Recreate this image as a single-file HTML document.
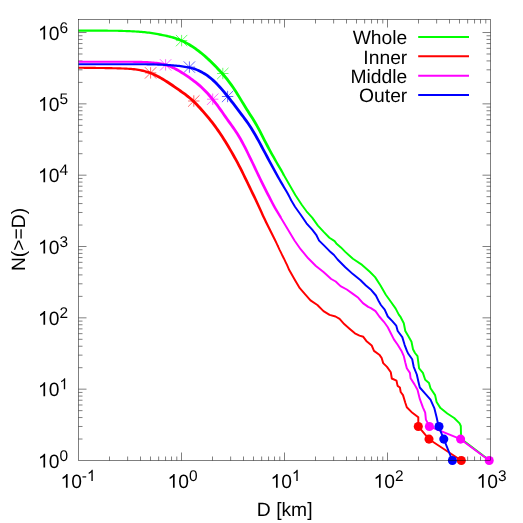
<!DOCTYPE html>
<html><head><meta charset="utf-8"><title>N(&gt;=D)</title>
<style>html,body{margin:0;padding:0;background:#fff}svg{display:block;will-change:transform}text{font-family:"Liberation Sans",sans-serif;fill:#000;text-rendering:geometricPrecision}</style></head>
<body>
<svg width="523" height="523" viewBox="0 0 523 523">
<rect width="523" height="523" fill="#fff"/>
<path d="M109.51 460.5v-4M109.51 19.5v4M127.64 460.5v-4M127.64 19.5v4M140.51 460.5v-4M140.51 19.5v4M150.49 460.5v-4M150.49 19.5v4M158.65 460.5v-4M158.65 19.5v4M165.55 460.5v-4M165.55 19.5v4M171.52 460.5v-4M171.52 19.5v4M176.79 460.5v-4M176.79 19.5v4M181.50 460.5v-8M181.50 19.5v8M212.51 460.5v-4M212.51 19.5v4M230.64 460.5v-4M230.64 19.5v4M243.51 460.5v-4M243.51 19.5v4M253.49 460.5v-4M253.49 19.5v4M261.65 460.5v-4M261.65 19.5v4M268.55 460.5v-4M268.55 19.5v4M274.52 460.5v-4M274.52 19.5v4M279.79 460.5v-4M279.79 19.5v4M284.50 460.5v-8M284.50 19.5v8M315.51 460.5v-4M315.51 19.5v4M333.64 460.5v-4M333.64 19.5v4M346.51 460.5v-4M346.51 19.5v4M356.49 460.5v-4M356.49 19.5v4M364.65 460.5v-4M364.65 19.5v4M371.55 460.5v-4M371.55 19.5v4M377.52 460.5v-4M377.52 19.5v4M382.79 460.5v-4M382.79 19.5v4M387.50 460.5v-8M387.50 19.5v8M418.51 460.5v-4M418.51 19.5v4M436.64 460.5v-4M436.64 19.5v4M449.51 460.5v-4M449.51 19.5v4M459.49 460.5v-4M459.49 19.5v4M467.65 460.5v-4M467.65 19.5v4M474.55 460.5v-4M474.55 19.5v4M480.52 460.5v-4M480.52 19.5v4M485.79 460.5v-4M485.79 19.5v4M78.5 439.03h4M490.5 439.03h-4M78.5 426.47h4M490.5 426.47h-4M78.5 417.56h4M490.5 417.56h-4M78.5 410.64h4M490.5 410.64h-4M78.5 404.99h4M490.5 404.99h-4M78.5 400.22h4M490.5 400.22h-4M78.5 396.08h4M490.5 396.08h-4M78.5 392.43h4M490.5 392.43h-4M78.5 389.17h8M490.5 389.17h-8M78.5 367.70h4M490.5 367.70h-4M78.5 355.14h4M490.5 355.14h-4M78.5 346.23h4M490.5 346.23h-4M78.5 339.31h4M490.5 339.31h-4M78.5 333.66h4M490.5 333.66h-4M78.5 328.89h4M490.5 328.89h-4M78.5 324.75h4M490.5 324.75h-4M78.5 321.10h4M490.5 321.10h-4M78.5 317.84h8M490.5 317.84h-8M78.5 296.37h4M490.5 296.37h-4M78.5 283.81h4M490.5 283.81h-4M78.5 274.90h4M490.5 274.90h-4M78.5 267.98h4M490.5 267.98h-4M78.5 262.33h4M490.5 262.33h-4M78.5 257.56h4M490.5 257.56h-4M78.5 253.42h4M490.5 253.42h-4M78.5 249.77h4M490.5 249.77h-4M78.5 246.51h8M490.5 246.51h-8M78.5 225.04h4M490.5 225.04h-4M78.5 212.48h4M490.5 212.48h-4M78.5 203.57h4M490.5 203.57h-4M78.5 196.65h4M490.5 196.65h-4M78.5 191.00h4M490.5 191.00h-4M78.5 186.23h4M490.5 186.23h-4M78.5 182.09h4M490.5 182.09h-4M78.5 178.44h4M490.5 178.44h-4M78.5 175.18h8M490.5 175.18h-8M78.5 153.71h4M490.5 153.71h-4M78.5 141.15h4M490.5 141.15h-4M78.5 132.24h4M490.5 132.24h-4M78.5 125.32h4M490.5 125.32h-4M78.5 119.67h4M490.5 119.67h-4M78.5 114.90h4M490.5 114.90h-4M78.5 110.76h4M490.5 110.76h-4M78.5 107.11h4M490.5 107.11h-4M78.5 103.85h8M490.5 103.85h-8M78.5 82.38h4M490.5 82.38h-4M78.5 69.82h4M490.5 69.82h-4M78.5 60.91h4M490.5 60.91h-4M78.5 53.99h4M490.5 53.99h-4M78.5 48.34h4M490.5 48.34h-4M78.5 43.57h4M490.5 43.57h-4M78.5 39.43h4M490.5 39.43h-4M78.5 35.78h4M490.5 35.78h-4M78.5 32.52h8M490.5 32.52h-8" stroke="#000" stroke-width="0.5" fill="none"/>
<text x="407.3" y="44.2" font-size="19.3" text-anchor="end">Whole</text>
<text x="407.3" y="63.5" font-size="19.3" text-anchor="end">Inner</text>
<text x="407.3" y="82.9" font-size="19.3" text-anchor="end">Middle</text>
<text x="407.3" y="102.2" font-size="19.3" text-anchor="end">Outer</text>
<path d="M175.9 40.6h11.4M181.6 34.9v11.4M175.9 34.9l11.4 11.4M175.9 46.3l11.4 -11.4M217.1 73.5h11.4M222.8 67.8v11.4M217.1 67.8l11.4 11.4M217.1 79.2l11.4 -11.4" stroke="#00ff00" stroke-width="0.6" fill="none"/>
<path d="M144.9 72.9h11.4M150.6 67.2v11.4M144.9 67.2l11.4 11.4M144.9 78.6l11.4 -11.4M188.1 101.0h11.4M193.8 95.3v11.4M188.1 95.3l11.4 11.4M188.1 106.7l11.4 -11.4" stroke="#ff0000" stroke-width="0.6" fill="none"/>
<path d="M159.9 64.9h11.4M165.6 59.2v11.4M159.9 59.2l11.4 11.4M159.9 70.6l11.4 -11.4M207.0 99.2h11.4M212.7 93.5v11.4M207.0 93.5l11.4 11.4M207.0 104.9l11.4 -11.4" stroke="#ff00ff" stroke-width="0.6" fill="none"/>
<path d="M183.7 67.1h11.4M189.4 61.4v11.4M183.7 61.4l11.4 11.4M183.7 72.8l11.4 -11.4M221.9 96.5h11.4M227.6 90.8v11.4M221.9 90.8l11.4 11.4M221.9 102.2l11.4 -11.4" stroke="#0000ff" stroke-width="0.6" fill="none"/>
<polygon points="78.50,31.65 80.00,31.65 81.50,31.65 83.00,31.65 84.50,31.66 86.00,31.66 87.50,31.66 89.00,31.66 90.50,31.67 92.00,31.67 93.50,31.67 95.00,31.68 96.50,31.68 98.00,31.69 99.50,31.69 101.00,31.70 102.50,31.70 104.00,31.71 105.49,31.72 106.99,31.73 108.49,31.74 109.99,31.75 111.49,31.76 112.99,31.78 114.48,31.80 115.98,31.83 117.48,31.87 118.97,31.91 120.47,31.95 121.97,32.00 123.46,32.05 124.96,32.11 126.46,32.16 127.96,32.22 129.45,32.29 130.95,32.35 132.45,32.42 133.94,32.50 135.44,32.58 136.93,32.67 138.43,32.77 139.92,32.88 141.41,33.01 142.90,33.14 144.38,33.30 145.87,33.47 147.36,33.66 148.84,33.86 150.33,34.08 151.82,34.31 153.31,34.56 154.80,34.81 156.29,35.08 157.79,35.35 159.28,35.64 160.77,35.93 162.26,36.23 163.76,36.54 165.25,36.86 166.74,37.19 168.22,37.54 169.70,37.91 171.18,38.31 172.65,38.73 174.12,39.19 175.59,39.68 177.05,40.22 178.52,40.79 179.98,41.41 181.45,42.06 182.91,42.76 184.38,43.51 185.85,44.29 187.32,45.12 188.79,45.99 190.27,46.89 191.74,47.84 193.22,48.82 194.69,49.84 196.17,50.90 197.65,52.00 199.12,53.15 200.60,54.34 202.08,55.58 203.56,56.86 205.05,58.18 206.53,59.54 208.02,60.93 209.51,62.36 211.00,63.81 212.49,65.30 213.98,66.80 215.48,68.33 216.97,69.88 218.46,71.45 219.95,73.07 221.43,74.73 222.92,76.44 224.40,78.21 225.89,80.05 227.38,81.95 228.87,83.93 230.36,85.97 231.85,88.09 233.34,90.29 234.83,92.57 236.32,94.92 237.82,97.34 239.32,99.80 240.82,102.30 242.32,104.80 243.82,107.28 245.32,109.72 246.83,112.10 248.33,114.43 249.83,116.74 251.33,119.07 252.82,121.46 254.31,123.95 255.80,126.56 257.30,129.29 258.80,132.12 260.29,135.03 261.79,137.96 263.30,140.89 264.80,143.78 266.31,146.63 267.83,149.42 269.35,152.17 270.87,154.88 272.39,157.57 273.92,160.23 275.44,162.86 276.96,165.44 278.49,167.98 280.00,170.52 281.52,173.12 282.83,175.52 284.77,174.48 283.48,172.03 282.00,169.36 280.51,166.79 279.04,164.23 277.56,161.64 276.08,159.01 274.61,156.34 273.13,153.63 271.65,150.91 270.17,148.15 268.69,145.35 267.20,142.52 265.70,139.64 264.21,136.72 262.71,133.79 261.20,130.87 259.70,128.00 258.20,125.22 256.69,122.56 255.18,120.02 253.67,117.59 252.17,115.24 250.67,112.92 249.17,110.60 247.68,108.24 246.18,105.83 244.68,103.37 243.18,100.88 241.68,98.38 240.18,95.89 238.68,93.45 237.17,91.06 235.66,88.75 234.15,86.50 232.64,84.34 231.13,82.25 229.62,80.24 228.11,78.29 226.60,76.41 225.08,74.60 223.57,72.85 222.05,71.15 220.54,69.51 219.03,67.91 217.52,66.34 216.02,64.80 214.51,63.28 213.00,61.78 211.49,60.31 209.98,58.86 208.47,57.45 206.95,56.07 205.44,54.72 203.92,53.41 202.40,52.15 200.88,50.93 199.35,49.76 197.83,48.63 196.31,47.54 194.78,46.50 193.26,45.50 191.73,44.54 190.21,43.62 188.68,42.74 187.15,41.90 185.62,41.10 184.09,40.34 182.55,39.64 181.02,38.98 179.48,38.36 177.95,37.79 176.41,37.26 174.88,36.78 173.35,36.33 171.82,35.91 170.30,35.53 168.78,35.17 167.26,34.83 165.75,34.50 164.24,34.19 162.74,33.89 161.23,33.59 159.72,33.30 158.21,33.02 156.71,32.76 155.20,32.50 153.69,32.25 152.18,32.01 150.67,31.79 149.16,31.58 147.64,31.39 146.13,31.21 144.62,31.06 143.10,30.91 141.59,30.79 140.08,30.68 138.57,30.58 137.07,30.49 135.56,30.40 134.06,30.33 132.55,30.26 131.05,30.19 129.55,30.12 128.04,30.06 126.54,30.01 125.04,29.95 123.54,29.90 122.03,29.85 120.53,29.81 119.03,29.77 117.52,29.73 116.02,29.71 114.52,29.68 113.01,29.66 111.51,29.65 110.01,29.64 108.51,29.63 107.01,29.62 105.51,29.61 104.00,29.60 102.50,29.60 101.00,29.59 99.50,29.59 98.00,29.58 96.50,29.58 95.00,29.57 93.50,29.57 92.00,29.57 90.50,29.56 89.00,29.56 87.50,29.56 86.00,29.56 84.50,29.55 83.00,29.55 81.50,29.55 80.00,29.55 78.50,29.55" fill="#00ff00"/>
<polyline points="283.8,175.0 295.3,195.0 301.9,205.0 306.5,211.3 312.2,217.6 317.9,225.6 323.7,231.9 329.4,237.7 334.6,241.1 336.3,243.4 340.9,247.4 345.3,251.9 352.9,258.8 362.1,264.9 369.8,271.8 375.1,277.1 380.5,285.5 385.8,294.7 391.2,302.3 395.7,308.6 398.8,314.6 400.7,317.2 403.8,323.3 405.3,331.0 408.4,336.3 411.5,341.7 413.0,349.3 415.0,353.0 417.5,356.1 419.1,368.3 422.9,372.9 425.2,379.8 429.0,382.9 430.5,388.2 435.1,395.1 436.6,402.0 440.5,408.1 447.3,413.5 454.2,418.0 459.6,423.4 460.8,426.0 461.1,438.9 489.3,460.3" fill="none" stroke="#00ff00" stroke-width="1.95" stroke-linejoin="round" stroke-linecap="round"/>
<line x1="418.2" x2="469" y1="37.0" y2="37.0" stroke="#00ff00" stroke-width="2"/>
<polygon points="78.50,68.86 80.00,68.86 81.50,68.86 83.00,68.87 84.49,68.88 85.99,68.89 87.49,68.90 88.99,68.91 90.49,68.93 91.99,68.94 93.49,68.96 94.99,68.98 96.49,69.00 97.98,69.02 99.48,69.04 100.98,69.07 102.48,69.09 103.98,69.12 105.48,69.14 106.98,69.17 108.48,69.19 109.98,69.22 111.48,69.25 112.98,69.28 114.48,69.32 115.97,69.35 117.47,69.39 118.97,69.44 120.47,69.48 121.96,69.54 123.46,69.60 124.95,69.66 126.44,69.74 127.93,69.83 129.42,69.94 130.91,70.06 132.39,70.21 133.87,70.38 135.35,70.57 136.83,70.79 138.30,71.04 139.78,71.32 141.25,71.64 142.72,71.98 144.19,72.36 145.66,72.78 147.12,73.23 148.59,73.73 150.05,74.26 151.51,74.85 152.97,75.48 154.43,76.16 155.90,76.88 157.37,77.64 158.84,78.45 160.32,79.28 161.80,80.15 163.28,81.05 164.76,81.98 166.25,82.93 167.73,83.90 169.22,84.89 170.71,85.90 172.21,86.92 173.70,87.96 175.20,89.00 176.70,90.04 178.20,91.09 179.69,92.13 181.19,93.19 182.68,94.26 184.16,95.35 185.64,96.47 187.12,97.63 188.59,98.84 190.06,100.10 191.54,101.42 193.01,102.81 194.49,104.27 195.97,105.80 197.45,107.38 198.94,109.01 200.44,110.68 201.93,112.37 203.43,114.08 204.92,115.81 206.41,117.57 207.90,119.37 209.39,121.20 210.88,123.09 212.38,125.02 213.87,127.01 215.36,129.06 216.85,131.16 218.34,133.32 219.84,135.55 221.33,137.83 222.83,140.17 224.32,142.57 225.82,145.02 227.31,147.51 228.81,150.04 230.31,152.61 231.81,155.23 233.30,157.89 234.80,160.59 236.30,163.36 237.80,166.19 239.29,169.08 240.79,172.04 242.29,175.07 243.79,178.14 245.29,181.25 246.79,184.37 248.29,187.48 249.79,190.58 251.29,193.67 252.80,196.75 254.32,199.86 255.84,203.03 257.36,206.27 258.88,209.56 260.40,212.86 261.92,216.14 263.44,219.35 264.96,222.47 266.49,225.52 268.01,228.50 269.53,231.45 271.05,234.41 272.57,237.41 274.08,240.47 275.60,243.59 277.12,246.75 278.88,245.92 277.40,242.73 275.92,239.59 274.43,236.49 272.95,233.45 271.47,230.46 269.99,227.49 268.51,224.51 267.04,221.47 265.56,218.35 264.08,215.14 262.60,211.86 261.12,208.54 259.64,205.23 258.16,201.95 256.68,198.75 255.20,195.60 253.71,192.49 252.21,189.41 250.71,186.31 249.21,183.21 247.71,180.09 246.21,176.97 244.71,173.88 243.21,170.84 241.71,167.85 240.20,164.93 238.70,162.08 237.20,159.29 235.70,156.55 234.19,153.87 232.69,151.24 231.19,148.65 229.69,146.10 228.18,143.58 226.68,141.12 225.17,138.69 223.67,136.32 222.16,134.01 220.66,131.75 219.15,129.56 217.64,127.42 216.13,125.34 214.62,123.32 213.12,121.35 211.61,119.43 210.10,117.57 208.59,115.75 207.08,113.97 205.57,112.22 204.07,110.49 202.56,108.79 201.06,107.10 199.55,105.45 198.03,103.83 196.51,102.26 194.99,100.76 193.46,99.32 191.94,97.96 190.41,96.66 188.88,95.42 187.36,94.23 185.84,93.09 184.32,91.98 182.81,90.90 181.31,89.84 179.80,88.79 178.30,87.74 176.80,86.70 175.30,85.65 173.79,84.62 172.29,83.59 170.78,82.57 169.27,81.57 167.75,80.59 166.24,79.63 164.72,78.69 163.20,77.78 161.68,76.90 160.16,76.05 158.63,75.24 157.10,74.47 155.57,73.73 154.03,73.05 152.49,72.42 150.95,71.84 149.41,71.30 147.88,70.82 146.34,70.38 144.81,69.97 143.28,69.61 141.75,69.28 140.22,68.99 138.70,68.73 137.17,68.50 135.65,68.30 134.13,68.12 132.61,67.97 131.09,67.84 129.58,67.74 128.07,67.64 126.56,67.57 125.05,67.50 123.54,67.44 122.04,67.39 120.53,67.34 119.03,67.29 117.53,67.25 116.03,67.22 114.52,67.18 113.02,67.15 111.52,67.12 110.02,67.09 108.52,67.07 107.02,67.04 105.52,67.02 104.02,66.99 102.52,66.97 101.02,66.94 99.52,66.92 98.02,66.90 96.51,66.88 95.01,66.86 93.51,66.84 92.01,66.83 90.51,66.81 89.01,66.80 87.51,66.79 86.01,66.78 84.51,66.77 83.00,66.76 81.50,66.76 80.00,66.75 78.50,66.75" fill="#ff0000"/>
<polyline points="278.0,246.3 279.5,249.6 281.0,252.7 282.5,255.8 284.0,258.7 285.5,261.8 287.0,264.9 288.5,268.3 289.1,269.8 295.2,280.5 299.8,288.2 305.2,294.3 310.5,300.4 317.4,305.0 323.5,311.1 329.6,314.9 335.5,316.5 339.6,318.8 344.2,324.1 349.5,328.7 354.9,333.3 359.5,335.6 363.3,336.8 366.3,340.9 371.7,345.5 374.0,350.9 379.3,354.7 381.6,357.8 383.2,363.1 387.0,366.9 390.8,372.3 391.8,378.5 396.5,380.7 397.6,385.9 399.9,387.5 400.7,392.0 403.0,395.1 405.3,402.8 406.8,407.3 411.4,411.9 418.3,417.3 418.3,426.4 429.0,439.2 461.3,460.5" fill="none" stroke="#ff0000" stroke-width="1.95" stroke-linejoin="round" stroke-linecap="round"/>
<line x1="418.2" x2="469" y1="56.3" y2="56.3" stroke="#ff0000" stroke-width="2"/>
<circle cx="418.3" cy="426.5" r="4.55" fill="#ff0000"/>
<circle cx="429" cy="439.1" r="4.55" fill="#ff0000"/>
<circle cx="461.3" cy="460.5" r="4.55" fill="#ff0000"/>
<polygon points="78.50,62.85 80.00,62.85 81.50,62.85 83.00,62.85 84.50,62.85 86.00,62.85 87.50,62.85 89.00,62.85 90.50,62.85 92.00,62.85 93.50,62.85 95.00,62.85 96.50,62.85 98.00,62.85 99.50,62.85 101.00,62.85 102.50,62.85 104.00,62.85 105.50,62.85 107.00,62.85 108.50,62.85 110.00,62.85 111.50,62.85 113.00,62.85 114.50,62.85 116.00,62.85 117.50,62.85 119.00,62.85 120.50,62.85 122.00,62.85 123.50,62.85 125.00,62.85 126.50,62.85 128.00,62.85 129.50,62.86 131.00,62.86 132.49,62.87 133.99,62.88 135.49,62.89 136.99,62.91 138.48,62.94 139.98,62.96 141.47,63.00 142.97,63.05 144.46,63.11 145.95,63.18 147.44,63.26 148.93,63.36 150.42,63.47 151.90,63.60 153.39,63.75 154.87,63.92 156.35,64.12 157.82,64.34 159.30,64.60 160.77,64.89 162.23,65.21 163.69,65.58 165.15,66.00 166.61,66.47 168.06,66.99 169.51,67.57 170.97,68.20 172.43,68.88 173.89,69.62 175.35,70.40 176.82,71.22 178.30,72.08 179.78,72.97 181.26,73.90 182.75,74.84 184.23,75.81 185.72,76.81 187.20,77.83 188.69,78.87 190.17,79.94 191.66,81.03 193.14,82.15 194.63,83.30 196.11,84.48 197.59,85.71 199.06,86.98 200.54,88.30 202.01,89.69 203.49,91.15 204.97,92.67 206.45,94.27 207.93,95.93 209.42,97.65 210.90,99.43 212.39,101.27 213.88,103.16 215.37,105.11 216.87,107.10 218.36,109.15 219.86,111.24 221.35,113.36 222.85,115.50 224.35,117.65 225.85,119.78 227.36,121.90 228.86,123.99 230.36,126.07 231.86,128.15 233.35,130.27 234.84,132.45 236.33,134.74 237.81,137.15 239.31,139.71 240.80,142.39 242.30,145.20 243.79,148.10 245.29,151.07 246.79,154.09 248.29,157.14 249.79,160.23 251.29,163.34 252.79,166.47 254.29,169.63 255.79,172.79 257.29,175.95 258.79,179.08 260.29,182.17 261.79,185.22 263.29,188.23 264.79,191.20 266.30,194.15 267.82,197.06 269.34,199.98 270.87,202.86 272.39,205.67 273.92,208.40 275.44,211.03 276.97,213.56 278.49,216.03 280.01,218.50 281.99,217.30 280.51,214.81 279.03,212.33 277.56,209.80 276.08,207.18 274.61,204.47 273.13,201.66 271.66,198.78 270.18,195.85 268.70,192.92 267.21,189.98 265.71,187.02 264.21,184.02 262.71,180.99 261.21,177.91 259.71,174.79 258.21,171.64 256.71,168.48 255.21,165.32 253.71,162.17 252.21,159.06 250.71,155.96 249.21,152.90 247.71,149.87 246.21,146.87 244.70,143.94 243.20,141.10 241.69,138.36 240.19,135.74 238.67,133.26 237.16,130.91 235.65,128.68 234.14,126.52 232.64,124.42 231.14,122.34 229.64,120.26 228.15,118.16 226.65,116.03 225.15,113.89 223.65,111.75 222.14,109.61 220.64,107.51 219.13,105.43 217.63,103.41 216.12,101.43 214.61,99.50 213.10,97.63 211.58,95.81 210.07,94.05 208.55,92.35 207.03,90.71 205.51,89.14 203.99,87.64 202.46,86.21 200.94,84.84 199.41,83.54 197.89,82.28 196.37,81.08 194.86,79.91 193.34,78.77 191.83,77.66 190.31,76.58 188.80,75.52 187.28,74.49 185.77,73.48 184.25,72.50 182.74,71.54 181.22,70.61 179.70,69.71 178.18,68.83 176.65,68.00 175.11,67.21 173.57,66.46 172.03,65.77 170.49,65.14 168.94,64.57 167.39,64.05 165.85,63.60 164.31,63.20 162.77,62.85 161.23,62.55 159.70,62.28 158.18,62.05 156.65,61.84 155.13,61.66 153.61,61.51 152.10,61.38 150.58,61.26 149.07,61.17 147.56,61.08 146.05,61.01 144.54,60.95 143.03,60.90 141.53,60.86 140.02,60.84 138.52,60.81 137.01,60.79 135.51,60.78 134.01,60.77 132.51,60.76 131.00,60.76 129.50,60.75 128.00,60.75 126.50,60.75 125.00,60.75 123.50,60.75 122.00,60.75 120.50,60.75 119.00,60.75 117.50,60.75 116.00,60.75 114.50,60.75 113.00,60.75 111.50,60.75 110.00,60.75 108.50,60.75 107.00,60.75 105.50,60.75 104.00,60.75 102.50,60.75 101.00,60.75 99.50,60.75 98.00,60.75 96.50,60.75 95.00,60.75 93.50,60.75 92.00,60.75 90.50,60.75 89.00,60.75 87.50,60.75 86.00,60.75 84.50,60.75 83.00,60.75 81.50,60.75 80.00,60.75 78.50,60.75" fill="#ff00ff"/>
<polyline points="281.0,217.9 294.5,240.5 300.6,249.2 308.2,258.3 315.9,266.0 323.5,272.1 331.2,279.0 335.7,281.5 340.5,286.1 346.8,289.5 352.9,293.9 358.3,297.8 362.9,303.1 368.2,306.9 370.9,308.1 375.5,311.1 379.3,316.5 383.9,321.8 387.8,327.2 390.8,333.3 393.9,339.4 397.7,344.8 401.5,350.9 403.8,356.1 405.3,362.5 406.8,368.3 409.9,372.9 410.6,378.3 414.5,384.4 417.5,389.8 419.8,398.9 422.9,407.3 425.2,412.7 425.9,419.6 429.4,426.4 460.6,439.2 489.2,460.5" fill="none" stroke="#ff00ff" stroke-width="1.95" stroke-linejoin="round" stroke-linecap="round"/>
<line x1="418.2" x2="469" y1="75.7" y2="75.7" stroke="#ff00ff" stroke-width="2"/>
<circle cx="429.4" cy="426.5" r="4.55" fill="#ff00ff"/>
<circle cx="460.6" cy="439.1" r="4.55" fill="#ff00ff"/>
<circle cx="489.2" cy="460.5" r="4.55" fill="#ff00ff"/>
<polygon points="78.50,65.35 80.00,65.35 81.50,65.35 83.00,65.35 84.50,65.35 86.00,65.35 87.50,65.35 89.00,65.35 90.50,65.35 92.00,65.35 93.50,65.35 95.00,65.35 96.50,65.35 98.00,65.35 99.50,65.35 101.00,65.35 102.50,65.35 104.00,65.35 105.50,65.35 107.00,65.35 108.50,65.35 110.00,65.35 111.50,65.35 113.00,65.35 114.50,65.35 116.00,65.35 117.50,65.35 119.00,65.35 120.50,65.35 122.00,65.35 123.50,65.35 125.00,65.35 126.50,65.35 128.00,65.35 129.50,65.35 131.00,65.35 132.50,65.35 134.00,65.35 135.50,65.35 137.00,65.35 138.50,65.35 140.00,65.35 141.50,65.35 143.00,65.35 144.50,65.36 145.99,65.36 147.49,65.38 148.99,65.39 150.48,65.42 151.98,65.45 153.47,65.48 154.97,65.53 156.47,65.57 157.96,65.63 159.46,65.69 160.96,65.75 162.45,65.82 163.95,65.89 165.44,65.97 166.94,66.05 168.43,66.15 169.92,66.25 171.41,66.37 172.91,66.49 174.40,66.63 175.89,66.78 177.38,66.94 178.87,67.12 180.36,67.30 181.85,67.50 183.34,67.71 184.82,67.94 186.30,68.20 187.77,68.48 189.24,68.80 190.70,69.17 192.16,69.58 193.62,70.03 195.07,70.54 196.52,71.11 197.96,71.73 199.41,72.43 200.86,73.20 202.31,74.02 203.77,74.91 205.23,75.85 206.69,76.86 208.15,77.94 209.60,79.10 211.07,80.33 212.53,81.66 214.00,83.06 215.48,84.54 216.96,86.09 218.45,87.70 219.93,89.36 221.42,91.08 222.91,92.84 224.40,94.64 225.90,96.47 227.39,98.34 228.89,100.24 230.38,102.16 231.88,104.10 233.38,106.05 234.88,108.01 236.38,109.97 237.88,111.94 239.38,113.91 240.87,115.88 242.37,117.87 243.86,119.89 245.36,121.95 246.85,124.06 248.34,126.25 249.83,128.53 251.32,130.91 252.81,133.40 254.31,135.97 255.80,138.63 257.30,141.35 258.80,144.11 260.30,146.90 261.80,149.70 263.30,152.51 264.80,155.33 266.31,158.14 267.83,160.95 269.35,163.75 270.87,166.54 272.39,169.31 273.91,172.05 275.43,174.76 276.96,177.43 278.48,180.07 280.00,182.68 281.53,185.26 283.05,187.80 284.57,190.32 286.09,192.85 287.59,195.47 289.10,198.32 290.10,200.42 291.90,199.58 290.90,197.43 289.41,194.49 287.91,191.80 286.43,189.22 284.95,186.68 283.47,184.12 282.00,181.53 280.52,178.91 279.04,176.26 277.57,173.57 276.09,170.86 274.61,168.11 273.13,165.32 271.65,162.52 270.17,159.70 268.69,156.87 267.20,154.05 265.70,151.23 264.20,148.42 262.70,145.61 261.20,142.82 259.70,140.04 258.20,137.30 256.69,134.62 255.19,132.00 253.68,129.47 252.17,127.04 250.66,124.71 249.15,122.47 247.64,120.31 246.14,118.23 244.63,116.19 243.13,114.18 241.62,112.20 240.12,110.23 238.62,108.26 237.12,106.29 235.62,104.33 234.12,102.37 232.62,100.43 231.11,98.50 229.61,96.58 228.10,94.70 226.60,92.84 225.09,91.02 223.58,89.23 222.07,87.49 220.55,85.79 219.04,84.14 217.52,82.55 216.00,81.02 214.47,79.57 212.93,78.19 211.40,76.90 209.85,75.69 208.31,74.57 206.77,73.53 205.23,72.55 203.69,71.64 202.14,70.80 200.59,70.01 199.04,69.31 197.48,68.68 195.93,68.12 194.38,67.62 192.84,67.18 191.30,66.79 189.76,66.45 188.23,66.14 186.70,65.88 185.18,65.64 183.66,65.43 182.15,65.23 180.64,65.04 179.13,64.86 177.62,64.70 176.11,64.54 174.60,64.40 173.09,64.28 171.59,64.16 170.08,64.05 168.57,63.96 167.06,63.87 165.56,63.79 164.05,63.72 162.55,63.65 161.04,63.59 159.54,63.53 158.04,63.48 156.53,63.43 155.03,63.38 153.53,63.35 152.02,63.32 150.52,63.29 149.01,63.28 147.51,63.26 146.01,63.26 144.50,63.25 143.00,63.25 141.50,63.25 140.00,63.25 138.50,63.25 137.00,63.25 135.50,63.25 134.00,63.25 132.50,63.25 131.00,63.25 129.50,63.25 128.00,63.25 126.50,63.25 125.00,63.25 123.50,63.25 122.00,63.25 120.50,63.25 119.00,63.25 117.50,63.25 116.00,63.25 114.50,63.25 113.00,63.25 111.50,63.25 110.00,63.25 108.50,63.25 107.00,63.25 105.50,63.25 104.00,63.25 102.50,63.25 101.00,63.25 99.50,63.25 98.00,63.25 96.50,63.25 95.00,63.25 93.50,63.25 92.00,63.25 90.50,63.25 89.00,63.25 87.50,63.25 86.00,63.25 84.50,63.25 83.00,63.25 81.50,63.25 80.00,63.25 78.50,63.25" fill="#0000ff"/>
<polyline points="291.0,200.0 295.0,206.7 300.7,214.7 306.5,223.3 312.2,229.7 316.2,234.8 319.1,240.6 323.7,245.1 329.4,250.9 334.0,255.0 337.6,259.5 345.3,267.2 352.9,274.1 360.6,280.2 365.9,285.5 371.3,290.1 375.9,295.5 378.9,301.6 380.9,305.0 384.7,309.6 387.8,316.5 392.3,321.1 396.2,325.6 397.7,331.0 402.3,337.1 404.6,344.8 406.9,350.9 408.3,353.8 412.2,359.2 413.7,366.8 416.8,374.5 418.3,381.3 419.8,387.5 425.2,393.6 430.5,399.7 434.3,408.1 436.6,417.3 438.6,426.4 443.8,439.2 452.4,460.5" fill="none" stroke="#0000ff" stroke-width="1.95" stroke-linejoin="round" stroke-linecap="round"/>
<line x1="418.2" x2="469" y1="95.0" y2="95.0" stroke="#0000ff" stroke-width="2"/>
<circle cx="439" cy="426.5" r="4.55" fill="#0000ff"/>
<circle cx="443.8" cy="439.1" r="4.55" fill="#0000ff"/>
<circle cx="452.4" cy="460.5" r="4.55" fill="#0000ff"/>
<rect x="78.5" y="19.5" width="412.0" height="441.0" fill="none" stroke="#000" stroke-width="0.5"/>
<path transform="translate(37.95,467.50) scale(0.00942,-0.00942)" d="M763 0H583V1147Q518 1085 412.5 1023T223 930V1104Q372 1174 483.5 1273.5T641 1466H763Z" fill="#000"/>
<text x="48.68" y="467.50" font-size="19.3">0</text>
<text x="59.42" y="460.60" font-size="15.44">0</text>
<path transform="translate(37.95,396.17) scale(0.00942,-0.00942)" d="M763 0H583V1147Q518 1085 412.5 1023T223 930V1104Q372 1174 483.5 1273.5T641 1466H763Z" fill="#000"/>
<text x="48.68" y="396.17" font-size="19.3">0</text>
<path transform="translate(59.42,389.27) scale(0.00754,-0.00754)" d="M763 0H583V1147Q518 1085 412.5 1023T223 930V1104Q372 1174 483.5 1273.5T641 1466H763Z" fill="#000"/>
<path transform="translate(37.95,324.84) scale(0.00942,-0.00942)" d="M763 0H583V1147Q518 1085 412.5 1023T223 930V1104Q372 1174 483.5 1273.5T641 1466H763Z" fill="#000"/>
<text x="48.68" y="324.84" font-size="19.3">0</text>
<text x="59.42" y="317.94" font-size="15.44">2</text>
<path transform="translate(37.95,253.51) scale(0.00942,-0.00942)" d="M763 0H583V1147Q518 1085 412.5 1023T223 930V1104Q372 1174 483.5 1273.5T641 1466H763Z" fill="#000"/>
<text x="48.68" y="253.51" font-size="19.3">0</text>
<text x="59.42" y="246.61" font-size="15.44">3</text>
<path transform="translate(37.95,182.18) scale(0.00942,-0.00942)" d="M763 0H583V1147Q518 1085 412.5 1023T223 930V1104Q372 1174 483.5 1273.5T641 1466H763Z" fill="#000"/>
<text x="48.68" y="182.18" font-size="19.3">0</text>
<text x="59.42" y="175.28" font-size="15.44">4</text>
<path transform="translate(37.95,110.85) scale(0.00942,-0.00942)" d="M763 0H583V1147Q518 1085 412.5 1023T223 930V1104Q372 1174 483.5 1273.5T641 1466H763Z" fill="#000"/>
<text x="48.68" y="110.85" font-size="19.3">0</text>
<text x="59.42" y="103.95" font-size="15.44">5</text>
<path transform="translate(37.95,39.52) scale(0.00942,-0.00942)" d="M763 0H583V1147Q518 1085 412.5 1023T223 930V1104Q372 1174 483.5 1273.5T641 1466H763Z" fill="#000"/>
<text x="48.68" y="39.52" font-size="19.3">0</text>
<text x="59.42" y="32.62" font-size="15.44">6</text>
<path transform="translate(60.41,487.80) scale(0.00942,-0.00942)" d="M763 0H583V1147Q518 1085 412.5 1023T223 930V1104Q372 1174 483.5 1273.5T641 1466H763Z" fill="#000"/>
<text x="71.14" y="487.80" font-size="19.3">0</text>
<text x="81.87" y="480.90" font-size="15.44">-</text>
<path transform="translate(87.01,480.90) scale(0.00754,-0.00754)" d="M763 0H583V1147Q518 1085 412.5 1023T223 930V1104Q372 1174 483.5 1273.5T641 1466H763Z" fill="#000"/>
<path transform="translate(167.48,487.80) scale(0.00942,-0.00942)" d="M763 0H583V1147Q518 1085 412.5 1023T223 930V1104Q372 1174 483.5 1273.5T641 1466H763Z" fill="#000"/>
<text x="178.21" y="487.80" font-size="19.3">0</text>
<text x="188.94" y="480.90" font-size="15.44">0</text>
<path transform="translate(270.48,487.80) scale(0.00942,-0.00942)" d="M763 0H583V1147Q518 1085 412.5 1023T223 930V1104Q372 1174 483.5 1273.5T641 1466H763Z" fill="#000"/>
<text x="281.21" y="487.80" font-size="19.3">0</text>
<path transform="translate(291.94,480.90) scale(0.00754,-0.00754)" d="M763 0H583V1147Q518 1085 412.5 1023T223 930V1104Q372 1174 483.5 1273.5T641 1466H763Z" fill="#000"/>
<path transform="translate(373.48,487.80) scale(0.00942,-0.00942)" d="M763 0H583V1147Q518 1085 412.5 1023T223 930V1104Q372 1174 483.5 1273.5T641 1466H763Z" fill="#000"/>
<text x="384.21" y="487.80" font-size="19.3">0</text>
<text x="394.94" y="480.90" font-size="15.44">2</text>
<path transform="translate(476.48,487.80) scale(0.00942,-0.00942)" d="M763 0H583V1147Q518 1085 412.5 1023T223 930V1104Q372 1174 483.5 1273.5T641 1466H763Z" fill="#000"/>
<text x="487.21" y="487.80" font-size="19.3">0</text>
<text x="497.94" y="480.90" font-size="15.44">3</text>
<text x="284.7" y="516.0" font-size="19.3" text-anchor="middle">D [km]</text>
<text transform="translate(24.6,239.5) rotate(-90)" font-size="19.3" text-anchor="middle">N(&gt;=D)</text>
</svg>
</body></html>
